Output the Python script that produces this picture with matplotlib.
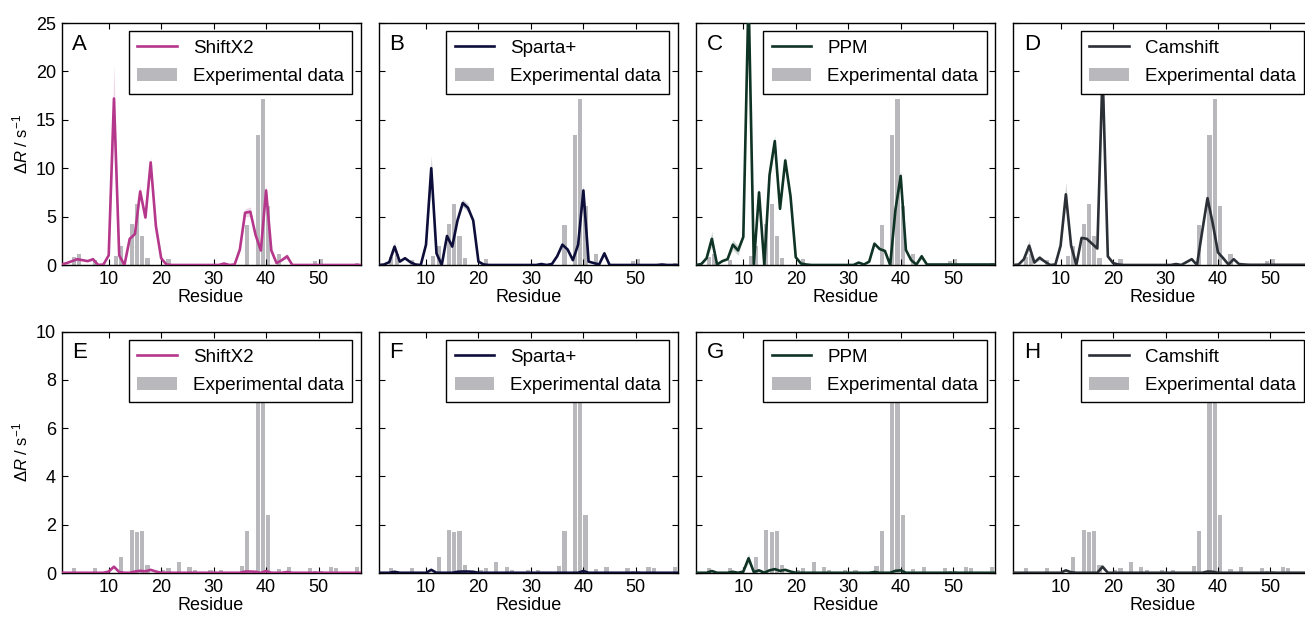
import numpy as np
import matplotlib.pyplot as plt

# residue numbers 1..58
residues = np.arange(1, 59)

# experimental data (sparse: residue -> value, everything else 0)
exp_top = {3: 0.85, 4: 1.1, 7: 0.5, 11: 0.9, 12: 2.0, 14: 4.2, 15: 6.3, 16: 3.0,
           17: 0.7, 21: 0.6, 36: 4.1, 38: 13.4, 39: 17.2, 40: 6.1, 42: 1.1,
           49: 0.4, 50: 0.65, 52: 0.1, 53: 0.1, 55: 0.1, 57: 0.25}
exp_bottom = {3: 0.19, 7: 0.19, 12: 0.65, 14: 1.78, 15: 1.69, 16: 1.72, 17: 0.32,
              20: 0.14, 21: 0.22, 23: 0.46, 25: 0.26, 26: 0.14, 29: 0.13, 31: 0.13,
              35: 0.28, 36: 1.74, 38: 8.5, 39: 8.5, 40: 2.42, 42: 0.17, 44: 0.24,
              48: 0.22, 49: 0.1, 50: 0.07, 52: 0.24, 53: 0.22, 57: 0.25}

# predictions, top row (residues 1..58)
shiftx2_top = [0.05, 0.2, 0.4, 0.6, 0.5, 0.4, 0.6, 0.0, 0.05, 1.0,
               17.2, 1.0, 0.0, 2.7, 3.2, 7.6, 4.9, 10.6, 4.0, 0.7,
               0.05, 0, 0, 0, 0, 0, 0, 0, 0, 0,
               0, 0.15, 0.0, 0.05, 1.6, 5.4, 5.5, 3.1, 1.5, 7.7,
               1.5, 0.2, 0.5, 0.9, 0.0, 0, 0, 0, 0, 0,
               0, 0, 0, 0, 0, 0, 0, 0]
sparta_top = [0.0, 0.05, 0.3, 1.9, 0.35, 0.7, 0.3, 0.05, 0.0, 2.1,
              10.0, 1.2, 0.0, 3.0, 1.9, 4.6, 6.4, 5.9, 4.6, 0.35,
              0.05, 0, 0, 0, 0, 0, 0, 0, 0, 0,
              0, 0.1, 0.0, 0.1, 0.9, 2.1, 1.6, 0.5, 2.1, 7.7,
              0.35, 0.2, 0.05, 1.2, 0.0, 0, 0, 0, 0, 0,
              0, 0, 0, 0, 0.05, 0, 0, 0]
ppm_top = [0.0, 0.1, 0.7, 2.7, 0.05, 0.4, 0.6, 2.1, 1.5, 2.9,
           28.0, 0.1, 7.5, 0.0, 9.3, 12.8, 5.8, 10.8, 7.1, 0.8,
           0.15, 0.05, 0, 0, 0, 0, 0, 0, 0, 0,
           0, 0.25, 0.05, 0.35, 2.2, 1.65, 1.45, 0.0, 5.7, 9.2,
           1.55, 0.5, 0.05, 0.9, 0.05, 0.05, 0.05, 0.05, 0.05, 0.05,
           0.05, 0.05, 0.05, 0.05, 0.05, 0.05, 0.05, 0.05]
camshift_top = [0.0, 0.05, 0.6, 2.0, 0.25, 0.75, 0.35, 0.0, 0.05, 2.0,
                7.3, 2.0, 0.0, 2.8, 2.7, 2.2, 1.7, 20.0, 0.9, 0.2,
                0.05, 0, 0, 0, 0, 0, 0, 0, 0, 0,
                0, 0.1, 0.0, 0.3, 0.6, 0.0, 3.5, 6.9, 4.3, 1.3,
                0.7, 0.05, 0.6, 0.1, 0.05, 0.02, 0.02, 0.02, 0.02, 0.02,
                0.02, 0.02, 0.02, 0.02, 0.02, 0.02, 0.02, 0.02]

# predictions, bottom row (sparse, rest ~0)
shiftx2_bottom = {10: 0.05, 11: 0.25, 12: 0.03, 15: 0.05, 16: 0.08, 17: 0.06,
                  18: 0.12, 19: 0.05, 36: 0.05, 37: 0.05, 38: 0.04, 40: 0.07, 44: 0.03}
sparta_bottom = {4: 0.04, 11: 0.12, 16: 0.04, 17: 0.05, 18: 0.05, 19: 0.04, 40: 0.07}
ppm_bottom = {4: 0.07, 8: 0.04, 10: 0.05, 11: 0.6, 12: 0.03, 13: 0.1, 15: 0.1,
              16: 0.15, 17: 0.08, 18: 0.12, 19: 0.05, 35: 0.03, 39: 0.08, 40: 0.1}
camshift_bottom = {11: 0.1, 12: 0.02, 18: 0.25, 38: 0.05, 39: 0.04}

# uncertainty bands (sparse)
shiftx2_err = {4: 0.2, 7: 0.2, 11: 3.5, 16: 0.6, 18: 0.6, 36: 0.4, 37: 0.5, 40: 0.6, 44: 0.3}
sparta_err = {4: 0.5, 11: 1.3, 17: 0.4, 18: 0.4, 40: 0.6, 44: 0.3}
ppm_err = {4: 0.8, 8: 0.5, 9: 0.5, 13: 0.5, 15: 0.5, 16: 0.6, 18: 0.5, 40: 0.6, 44: 0.3}
camshift_err = {4: 0.6, 6: 0.3, 11: 1.3, 18: 1.0, 38: 0.4}
ppm_bottom_err = {11: 0.2}
shiftx2_bottom_err = {11: 0.05}

models = ["ShiftX2", "Sparta+", "PPM", "Camshift"]
colors = ["#b5378b", "#0e0e3a", "#0f3325", "#2b2f36"]
letters_top = ["A", "B", "C", "D"]
letters_bottom = ["E", "F", "G", "H"]


def to_array(d):
    arr = np.zeros(len(residues))
    for k, v in d.items():
        arr[k - 1] = v
    return arr


plt.rcParams.update({
    "font.family": ["Liberation Sans", "DejaVu Sans"],
    "mathtext.fontset": "custom",
    "mathtext.rm": "Liberation Sans",
    "mathtext.it": "Liberation Sans:italic",
    "xtick.direction": "in",
    "ytick.direction": "in",
    "xtick.top": True,
    "ytick.right": True,
    "xtick.major.size": 4,
    "ytick.major.size": 4,
    "axes.linewidth": 1.0,
})

fig = plt.figure(figsize=(13.05, 6.17), dpi=100)
W, H = 1305.0, 617.0

rows = [
    dict(top=23, bottom=265, exp=to_array(exp_top), ymax=25, yticks=[0, 5, 10, 15, 20, 25],
         lines=[np.array(shiftx2_top), np.array(sparta_top), np.array(ppm_top), np.array(camshift_top)],
         errs=[to_array(shiftx2_err), to_array(sparta_err), to_array(ppm_err), to_array(camshift_err)],
         letters=letters_top),
    dict(top=331.5, bottom=573, exp=to_array(exp_bottom), ymax=10, yticks=[0, 2, 4, 6, 8, 10],
         lines=[to_array(shiftx2_bottom) + 0.01, to_array(sparta_bottom) + 0.01,
                to_array(ppm_bottom) + 0.01, to_array(camshift_bottom) + 0.01],
         errs=[to_array(shiftx2_bottom_err), np.zeros(58), to_array(ppm_bottom_err), np.zeros(58)],
         letters=letters_bottom),
]

for row in rows:
    for i in range(4):
        left = 61.5 + 317.3 * i
        ax = fig.add_axes([left / W, (H - row["bottom"]) / H, 299 / W,
                           (row["bottom"] - row["top"]) / H])
        y = row["lines"][i]
        err = row["errs"][i]
        bars = ax.bar(residues, row["exp"], width=0.8, align="edge",
                      color="#b9b9bd", linewidth=0, zorder=1)
        ax.fill_between(residues, np.clip(y - err, 0, None), y + err,
                        color=colors[i], alpha=0.2, linewidth=0, zorder=2)
        line, = ax.plot(residues, y, color=colors[i], lw=1.9, zorder=3)
        ax.set_xlim(1, 58)
        ax.set_ylim(0, row["ymax"])
        ax.set_xticks([10, 20, 30, 40, 50])
        ax.set_yticks(row["yticks"])
        ax.tick_params(labelsize=13, pad=4)
        if i > 0:
            ax.set_yticklabels([])
        else:
            ax.set_ylabel("Δ$R$ / s$^{-1}$", fontsize=12, labelpad=4)
        ax.set_xlabel("Residue", fontsize=13, labelpad=1)
        ax.text(0.035, 0.955, row["letters"][i], transform=ax.transAxes,
                ha="left", va="top", fontsize=16)
        leg = ax.legend([line, bars], [models[i], "Experimental data"],
                        loc="upper right", fontsize=13.5, frameon=True, fancybox=False,
                        framealpha=1, edgecolor="black", handlelength=2.1,
                        handletextpad=0.85, labelspacing=0.6, borderpad=0.45,
                        borderaxespad=0.45)
        leg.get_frame().set_linewidth(1.0)
        leg.set_zorder(5)

fig.savefig("out.png", dpi=100)
